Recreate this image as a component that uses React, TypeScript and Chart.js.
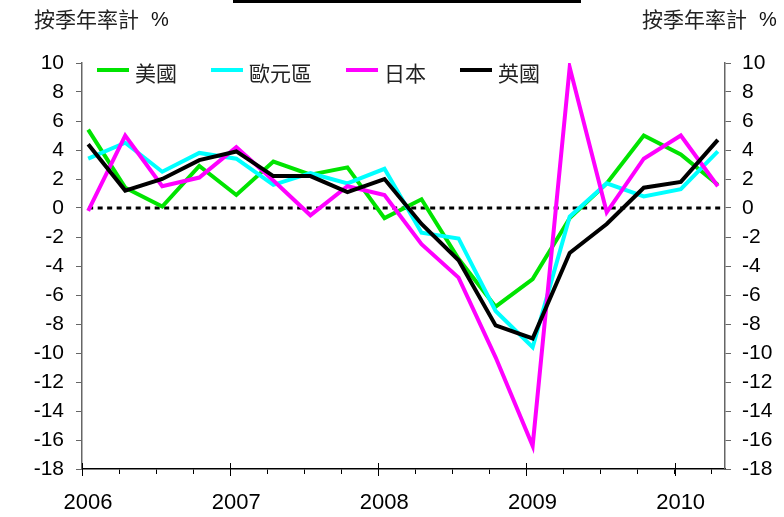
import React, { useEffect, useRef } from "react";
import { Chart, registerables } from "chart.js";

Chart.register(...registerables);

// ---- data ----
const quarters = [
  "2006Q1", "2006Q2", "2006Q3", "2006Q4",
  "2007Q1", "2007Q2", "2007Q3", "2007Q4",
  "2008Q1", "2008Q2", "2008Q3", "2008Q4",
  "2009Q1", "2009Q2", "2009Q3", "2009Q4",
  "2010Q1", "2010Q2",
];
const seriesNames = ["美國", "歐元區", "日本", "英國"];
const usa = [5.4, 1.4, 0.1, 2.9, 0.9, 3.2, 2.3, 2.8, -0.7, 0.6, -3.5, -6.8, -4.9, -0.7, 1.7, 5.0, 3.7, 1.6];
const euro = [3.4, 4.5, 2.5, 3.8, 3.4, 1.6, 2.4, 1.7, 2.7, -1.7, -2.1, -7.1, -9.6, -0.6, 1.7, 0.8, 1.3, 3.9];
const japan = [-0.2, 5.0, 1.5, 2.1, 4.2, 1.9, -0.5, 1.5, 0.9, -2.5, -4.8, -10.3, -16.4, 9.7, -0.3, 3.4, 5.0, 1.5];
const uk = [4.4, 1.2, 2.0, 3.3, 3.9, 2.2, 2.2, 1.1, 2.0, -1.1, -3.6, -8.1, -9.0, -3.1, -1.1, 1.4, 1.8, 4.7];
const yearLabels = [2006, 2007, 2008, 2009, 2010];
const axisTitleText = "按季年率計";
const axisTitleUnit = "%";
const yMin = -18;
const yMax = 10;
const yStep = 2;
const xMin = 2006;
const xMax = 2010.34;

const colors = ["#00E400", "#00FFFF", "#FF00FF", "#000000"];

// quarter label -> time position (middle of first month of the quarter)
const toPos = (q: string) => {
  const y = parseInt(q.slice(0, 4), 10);
  const n = parseInt(q.slice(5), 10);
  return y + (n - 1) / 4 + 0.5 / 12;
};
const positions = quarters.map(toPos);

const CJK = '"Noto Sans CJK TC", "Noto Sans CJK SC", sans-serif';
const NUM = '"Liberation Sans", Arial, sans-serif';

const extras = {
  id: "extras",
  beforeDatasetsDraw(chart: any) {
    const { ctx, chartArea, scales } = chart;
    const y0 = scales.y.getPixelForValue(0);
    const xs = scales.x.getPixelForValue(positions[0]);
    ctx.save();
    ctx.setLineDash([5, 4.5]);
    ctx.lineWidth = 3;
    ctx.strokeStyle = "#000";
    ctx.beginPath();
    ctx.moveTo(xs, y0);
    ctx.lineTo(chartArea.right - 2, y0);
    ctx.stroke();
    ctx.restore();
  },
  afterDraw(chart: any) {
    const { ctx, chartArea, scales } = chart;
    ctx.save();
    // major year ticks crossing the axis
    ctx.strokeStyle = "#000";
    ctx.lineWidth = 1;
    yearLabels.forEach((yr) => {
      const x = Math.round(scales.x.getPixelForValue(yr)) + 0.5;
      ctx.beginPath();
      ctx.moveTo(x, chartArea.bottom - 6);
      ctx.lineTo(x, chartArea.bottom + 7);
      ctx.stroke();
    });
    // titles (left and right)
    ctx.textBaseline = "middle";
    ctx.textAlign = "left";
    const drawTitle = (x0: number) => {
      ctx.fillStyle = "#222";
      ctx.font = `21px ${CJK}`;
      ctx.fillText(axisTitleText, x0, 19);
      const w = ctx.measureText(axisTitleText).width;
      ctx.fillStyle = "#111";
      ctx.font = `20px ${NUM}`;
      ctx.fillText(axisTitleUnit, x0 + w + 12, 20);
    };
    drawTitle(34);
    drawTitle(642);
    // legend
    let x = 97;
    const ly = 70;
    chart.data.datasets.forEach((ds: any) => {
      ctx.strokeStyle = ds.borderColor;
      ctx.lineWidth = 4;
      ctx.beginPath();
      ctx.moveTo(x, ly);
      ctx.lineTo(x + 32, ly);
      ctx.stroke();
      ctx.fillStyle = "#222";
      ctx.textAlign = "left";
      ctx.font = `21px ${CJK}`;
      ctx.fillText(ds.label, x + 38, ly + 3);
      const w = ctx.measureText(ds.label).width;
      x = x + 38 + w + 34;
    });
    ctx.restore();
  },
};

export default function App() {
  const ref = useRef<HTMLCanvasElement | null>(null);

  useEffect(() => {
    if (!ref.current) return;
    const all = [usa, euro, japan, uk];
    const chart = new Chart(ref.current, {
      type: "line",
      data: {
        datasets: all.map((vals, i) => ({
          label: seriesNames[i],
          data: vals.map((v, k) => ({ x: positions[k], y: v })),
          borderColor: colors[i],
          backgroundColor: colors[i],
          borderWidth: 4,
          pointRadius: 0,
          tension: 0,
          fill: false,
          order: all.length - 1 - i,
        })),
      },
      options: {
        responsive: false,
        animation: false,
        devicePixelRatio: 1,
        layout: { padding: { top: 63, left: 0, right: 0, bottom: 0 } },
        plugins: {
          legend: { display: false },
          tooltip: { enabled: false },
          title: { display: false },
        },
        scales: {
          x: {
            type: "linear",
            position: "bottom",
            min: xMin,
            max: xMax,
            afterBuildTicks: (scale: any) => {
              const t: any[] = [];
              for (let v = xMin; v <= xMax + 1e-9; v += 0.25) t.push({ value: v });
              scale.ticks = t;
            },
            afterFit: (scale: any) => {
              scale.height = 48;
            },
            ticks: {
              autoSkip: false,
              maxRotation: 0,
              minRotation: 0,
              padding: 16,
              labelOffset: 6,
              color: "#000",
              font: { family: NUM, size: 22 },
              callback: (v: any) => (yearLabels.includes(Number(v)) ? String(v) : ""),
            },
            grid: {
              drawOnChartArea: false,
              drawTicks: true,
              tickLength: 5,
              color: "#000",
            },
            border: { color: "#000", width: 1.5 },
          },
          y: {
            position: "left",
            min: yMin,
            max: yMax,
            afterFit: (scale: any) => {
              scale.width = 82;
            },
            ticks: {
              stepSize: yStep,
              padding: 12,
              color: "#000",
              font: { family: NUM, size: 21 },
            },
            grid: { drawOnChartArea: false, tickLength: 6, color: "#666" },
            border: { color: "#666", width: 1.5 },
          },
          y2: {
            position: "right",
            min: yMin,
            max: yMax,
            afterFit: (scale: any) => {
              scale.width = 59;
            },
            ticks: {
              stepSize: yStep,
              padding: 11,
              color: "#000",
              font: { family: NUM, size: 21 },
            },
            grid: { drawOnChartArea: false, tickLength: 6, color: "#666" },
            border: { color: "#666", width: 1.5 },
          },
        },
      },
      plugins: [extras],
    } as any);
    return () => chart.destroy();
  }, []);

  return (
    <div style={{ position: "absolute", left: 0, top: 0, width: 784, height: 517, background: "#fff" }}>
      <div style={{ position: "absolute", left: 233, top: 0, width: 348, height: 3, background: "#000" }} />
      <canvas ref={ref} width={784} height={517} style={{ position: "absolute", left: 0, top: 0 }} />
    </div>
  );
}
